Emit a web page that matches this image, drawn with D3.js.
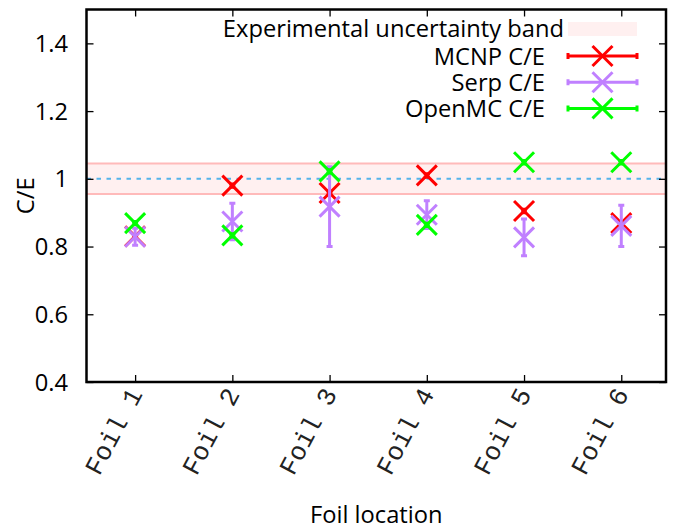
<!DOCTYPE html>
<html><head><meta charset="utf-8">
<script src="https://cdn.jsdelivr.net/npm/d3@7"></script>
<style>body{margin:0;background:#fff}</style>
</head><body>
<svg id="c" width="677" height="530"></svg>
<script>
const categories = ["Foil 1","Foil 2","Foil 3","Foil 4","Foil 5","Foil 6"];
const mcnp  = [0.830, 0.980, 0.958, 1.010, 0.905, 0.869];
const mcnpErr = [0.005, 0.005, 0.005, 0.005, 0.005, 0.005];
const serp  = [0.829, 0.874, 0.918, 0.894, 0.827, 0.861];
const serpErr = [0.025, 0.054, 0.118, 0.041, 0.054, 0.061];
const openmc = [0.869, 0.833, 1.022, 0.864, 1.049, 1.049];
const openmcErr = [0.005, 0.005, 0.005, 0.005, 0.005, 0.005];
const yTicks = [0.4, 0.6, 0.8, 1, 1.2, 1.4];
const bandLow = 0.955, bandHigh = 1.045, refLine = 1.0;

const series = [
  {name:"MCNP C/E", vals:mcnp, err:mcnpErr, color:"#ff0000"},
  {name:"Serp C/E", vals:serp, err:serpErr, color:"#c080ff"},
  {name:"OpenMC C/E", vals:openmc, err:openmcErr, color:"#00ff00"}
];

const svg = d3.select("#c");
const L=86.5, R=666, T=9.5, B=382;
const x = d3.scaleLinear().domain([0.5, 6.46]).range([L, R]);
const y = d3.scaleLinear().domain([0.4, 1.5]).range([B, T]);
const font = "'Open Sans', sans-serif";
const fs = 23.7;

// band
svg.append("rect").attr("x",L).attr("width",R-L)
  .attr("y",y(bandHigh)).attr("height",y(bandLow)-y(bandHigh))
  .attr("fill","#fff0f0");
[bandLow,bandHigh].forEach(v=>svg.append("line").attr("x1",L).attr("x2",R)
  .attr("y1",y(v)).attr("y2",y(v)).attr("stroke","#ffbaba").attr("stroke-width",2));
svg.append("line").attr("x1",L).attr("x2",R).attr("y1",y(refLine)).attr("y2",y(refLine))
  .attr("stroke","#56b4e9").attr("stroke-width",2).attr("stroke-dasharray","4.5,5.5");

// axes (inward ticks, mirrored)
const ax = (g, axis) => { g.call(axis); g.select(".domain").remove();
  g.selectAll(".tick line").attr("stroke","#000").attr("stroke-width",1.3); };
const xi = d3.range(1, categories.length+1);
svg.append("g").attr("transform",`translate(0,${B})`)
  .call(g=>ax(g, d3.axisTop(x).tickValues(xi).tickSize(7).tickFormat("")));
svg.append("g").attr("transform",`translate(0,${T})`)
  .call(g=>ax(g, d3.axisBottom(x).tickValues(xi).tickSize(7).tickFormat("")));
svg.append("g").attr("transform",`translate(${L},0)`)
  .call(g=>ax(g, d3.axisRight(y).tickValues(yTicks).tickSize(7).tickFormat("")));
svg.append("g").attr("transform",`translate(${R},0)`)
  .call(g=>ax(g, d3.axisLeft(y).tickValues(yTicks).tickSize(7).tickFormat("")));

// y tick labels
svg.append("g").selectAll("text").data(yTicks).join("text")
  .attr("x",68).attr("y",d=>y(d)).attr("dy","0.36em").attr("text-anchor","end")
  .attr("font-family",font).attr("font-size",fs).text(d=>d3.format("")(d));
// x tick labels
svg.append("g").selectAll("text").data(categories).join("text")
  .attr("transform",(d,i)=>`translate(${x(i+1)+8},${B+12}) rotate(-62)`)
  .attr("text-anchor","end").attr("font-family","'Liberation Mono', monospace")
  .attr("font-size",26).attr("fill","#222").text(d=>d);

// axis titles
svg.append("text").attr("transform",`translate(34,${(T+B)/2}) rotate(-90)`)
  .attr("text-anchor","middle").attr("font-family",font).attr("font-size",fs).text("C/E");
svg.append("text").attr("x",(L+R)/2).attr("y",523).attr("text-anchor","middle")
  .attr("font-family",font).attr("font-size",fs).text("Foil location");

// data
const S=10, cap=3;
function drawX(g, cx, cy, color){
  g.append("path").attr("d",`M${cx-S},${cy-S}L${cx+S},${cy+S}M${cx-S},${cy+S}L${cx+S},${cy-S}`)
   .attr("stroke",color).attr("stroke-width",3).attr("fill","none");
}
series.forEach(s=>{
  const g = svg.append("g");
  s.vals.forEach((v,i)=>{
    const cx=x(i+1), y1=y(v+s.err[i]), y0=y(v-s.err[i]);
    g.append("path").attr("d",`M${cx},${y1}L${cx},${y0}M${cx-cap},${y1}L${cx+cap},${y1}M${cx-cap},${y0}L${cx+cap},${y0}`)
     .attr("stroke",s.color).attr("stroke-width",3).attr("fill","none");
    drawX(g, cx, y(v), s.color);
  });
});

// frame
svg.append("rect").attr("x",L).attr("y",T).attr("width",R-L).attr("height",B-T)
  .attr("fill","none").attr("stroke","#000").attr("stroke-width",2.5);

// legend
const lx0=568, lx1=637, lxm=(lx0+lx1)/2;
svg.append("rect").attr("x",lx0).attr("y",22).attr("width",lx1-lx0).attr("height",14).attr("fill","#fff0f0");
svg.append("text").attr("x",564).attr("y",28).attr("dy","0.36em").attr("text-anchor","end")
  .attr("font-family",font).attr("font-size",fs).text("Experimental uncertainty band");
series.forEach((s,i)=>{
  const ly = 56 + i*26.2;
  const g = svg.append("g");
  g.append("path").attr("d",`M${lx0},${ly}L${lx1},${ly}M${lx0},${ly-3}L${lx0},${ly+3}M${lx1},${ly-3}L${lx1},${ly+3}`)
   .attr("stroke",s.color).attr("stroke-width",3).attr("fill","none");
  drawX(g, lxm, ly, s.color);
  g.append("text").attr("x",545).attr("y",ly).attr("dy","0.36em").attr("text-anchor","end")
   .attr("font-family",font).attr("font-size",fs).text(s.name);
});
</script>
</body></html>
